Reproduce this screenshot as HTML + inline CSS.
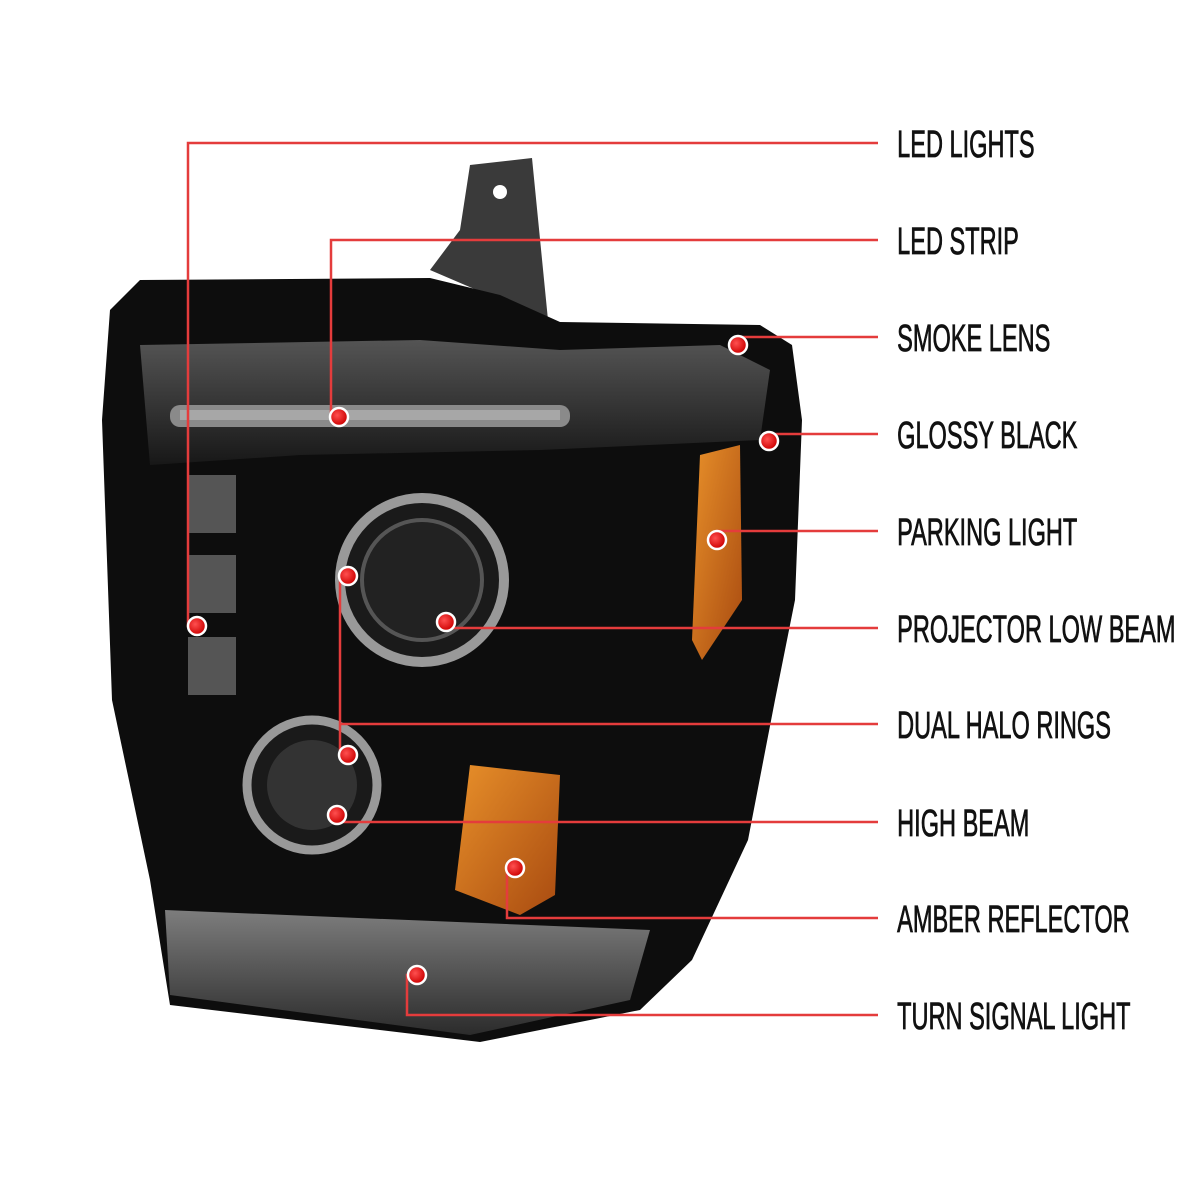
<!DOCTYPE html>
<html><head><meta charset="utf-8"><style>
html,body{margin:0;padding:0;background:#fff;}
svg{display:block}
text{font-family:"Liberation Sans",sans-serif;font-size:38px;fill:#111;stroke:#111;stroke-width:0.8;}
</style></head><body>
<svg width="1200" height="1200" viewBox="0 0 1200 1200" xmlns="http://www.w3.org/2000/svg">
<defs>
<linearGradient id="top" x1="0" y1="0" x2="0" y2="1"><stop offset="0" stop-color="#666"/><stop offset="1" stop-color="#1a1a1a"/></linearGradient>
<linearGradient id="bot" x1="0" y1="0" x2="0" y2="1"><stop offset="0" stop-color="#999"/><stop offset="1" stop-color="#333"/></linearGradient>
<linearGradient id="amb" x1="0" y1="0" x2="1" y2="1"><stop offset="0" stop-color="#e8902a"/><stop offset="1" stop-color="#a84a10"/></linearGradient>
<radialGradient id="dot" cx="0.4" cy="0.4" r="0.6"><stop offset="0" stop-color="#ff5050"/><stop offset="1" stop-color="#c00"/></radialGradient>
</defs>
<polygon points="470,165 532,158 548,320 500,300 430,270 460,230" fill="#3a3a3a"/>
<circle cx="500" cy="192" r="7" fill="#fff"/>
<polygon points="110,310 140,280 430,278 500,295 560,322 760,325 792,345 802,420 795,600 775,700 748,840 692,960 640,1010 480,1042 170,1005 150,880 112,700 102,420" fill="#0d0d0d"/>
<polygon points="140,345 420,340 560,350 720,345 770,370 760,440 540,450 300,455 150,465" fill="url(#top)" opacity="0.8"/>
<rect x="170" y="405" width="400" height="22" rx="10" fill="#8a8a8a"/>
<rect x="180" y="410" width="380" height="10" fill="#bbb" opacity="0.6"/>
<rect x="188" y="475" width="48" height="58" fill="#555"/>
<rect x="188" y="555" width="48" height="58" fill="#555"/>
<rect x="188" y="637" width="48" height="58" fill="#555"/>
<circle cx="422" cy="580" r="82" fill="#1a1a1a" stroke="#999" stroke-width="10"/>
<circle cx="422" cy="580" r="60" fill="#222" stroke="#555" stroke-width="4"/>
<circle cx="312" cy="785" r="65" fill="#1a1a1a" stroke="#999" stroke-width="9"/>
<circle cx="312" cy="785" r="45" fill="#333"/>
<polygon points="700,455 740,445 742,600 702,660 692,640" fill="url(#amb)"/>
<polygon points="470,765 560,775 555,895 520,915 455,890" fill="url(#amb)"/>
<polygon points="165,910 650,930 630,1000 470,1035 170,995" fill="url(#bot)" opacity="0.8"/>
<g stroke="#e43c3c" stroke-width="2.5" fill="none">
<polyline points="197,626 188,626 188,143 878,143"/>
<polyline points="339,417 331,417 331,240 878,240"/>
<polyline points="738,345 738,337 878,337"/>
<polyline points="769,441 769,434 878,434"/>
<polyline points="717,540 717,531 878,531"/>
<polyline points="446,622 446,628 878,628"/>
<polyline points="348,576 340,576 340,755 348,755"/>
<polyline points="340,724 878,724"/>
<polyline points="337,815 337,822 878,822"/>
<polyline points="515,868 507,868 507,918 878,918"/>
<polyline points="417,975 407,975 407,1015 878,1015"/>
</g>
<g fill="url(#dot)" stroke="#fff" stroke-width="2.5">
<circle cx="197" cy="626" r="9"/><circle cx="339" cy="417" r="9"/><circle cx="738" cy="345" r="9"/>
<circle cx="769" cy="441" r="9"/><circle cx="717" cy="540" r="9"/><circle cx="446" cy="622" r="9"/>
<circle cx="348" cy="576" r="9"/><circle cx="348" cy="755" r="9"/><circle cx="337" cy="815" r="9"/>
<circle cx="515" cy="868" r="9"/><circle cx="417" cy="975" r="9"/>
</g>
<g transform="scale(0.62,1)">
<text x="1447" y="157">LED LIGHTS</text>
<text x="1447" y="254">LED STRIP</text>
<text x="1447" y="351">SMOKE LENS</text>
<text x="1447" y="448">GLOSSY BLACK</text>
<text x="1447" y="545">PARKING LIGHT</text>
<text x="1447" y="642">PROJECTOR LOW BEAM</text>
<text x="1447" y="738">DUAL HALO RINGS</text>
<text x="1447" y="836">HIGH BEAM</text>
<text x="1447" y="932">AMBER REFLECTOR</text>
<text x="1447" y="1029">TURN SIGNAL LIGHT</text>
</g>
</svg>
</body></html>
